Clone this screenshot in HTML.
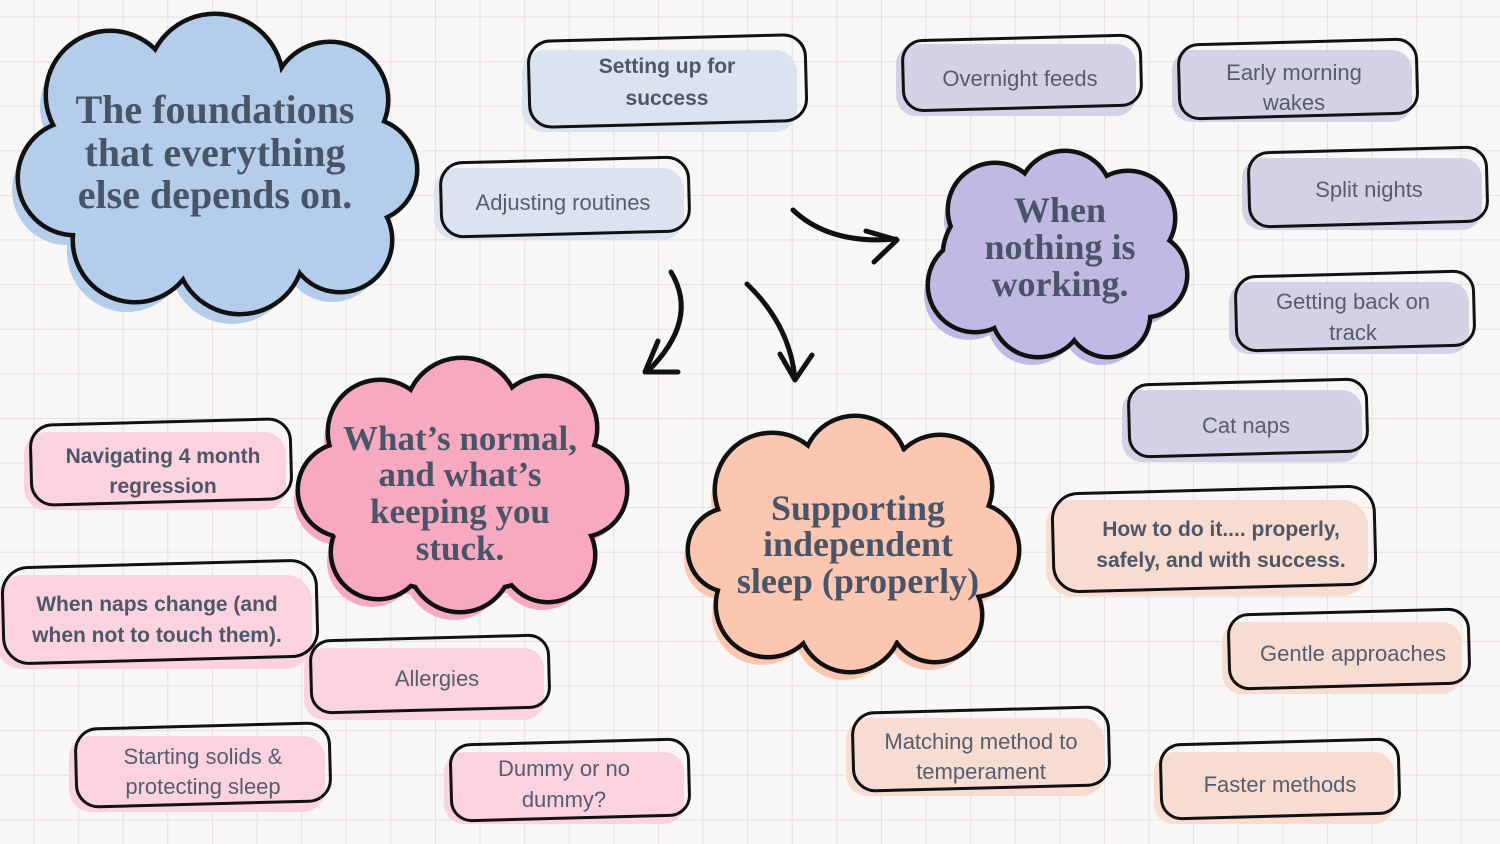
<!DOCTYPE html>
<html><head><meta charset="utf-8"><style>
html,body{margin:0;padding:0;background:#f8f7f6;}
svg{display:block}
.t{font-family:"Liberation Sans",sans-serif;fill:#555d70;text-anchor:middle;font-size:22px}
.b{font-weight:bold;fill:#4e5769;font-size:21px}
.h{font-family:"Liberation Serif",serif;font-weight:bold;fill:#4a5468;text-anchor:middle}
</style></head><body>
<svg width="1500" height="844" viewBox="0 0 1500 844" xmlns="http://www.w3.org/2000/svg">
<defs>
<pattern id="g" x="33.6" y="16.6" width="44.6" height="44.6" patternUnits="userSpaceOnUse">
<path d="M0 0H44.6M0 0V44.6" stroke="#e0dad6" stroke-width="1.5" fill="none"/>
</pattern>
<g id="c1"><ellipse cx="215" cy="165" rx="170" ry="100"/><circle cx="110" cy="95" r="62"/><circle cx="215" cy="82" r="66"/><circle cx="330" cy="100" r="56"/><circle cx="365" cy="170" r="50"/><circle cx="340" cy="240" r="50"/><circle cx="240" cy="250" r="62"/><circle cx="135" cy="240" r="60"/><circle cx="75" cy="178" r="55"/></g>
<g id="c2"><ellipse cx="1055" cy="255" rx="110" ry="75"/><circle cx="995" cy="210" r="45"/><circle cx="1065" cy="198" r="45"/><circle cx="1128" cy="218" r="45"/><circle cx="1145" cy="275" r="40"/><circle cx="1108" cy="315" r="40"/><circle cx="1038" cy="310" r="45"/><circle cx="975" cy="285" r="45"/></g>
<g id="c3"><ellipse cx="460" cy="490" rx="140" ry="100"/><circle cx="380" cy="432" r="50"/><circle cx="462" cy="415" r="55"/><circle cx="545" cy="428" r="50"/><circle cx="580" cy="490" r="45"/><circle cx="548" cy="555" r="45"/><circle cx="460" cy="560" r="50"/><circle cx="378" cy="552" r="45"/><circle cx="345" cy="490" r="45"/></g>
<g id="c4"><ellipse cx="855" cy="545" rx="135" ry="100"/><circle cx="772" cy="490" r="55"/><circle cx="855" cy="468" r="50"/><circle cx="940" cy="487" r="50"/><circle cx="972" cy="550" r="45"/><circle cx="935" cy="615" r="45"/><circle cx="850" cy="620" r="50"/><circle cx="768" cy="605" r="50"/><circle cx="730" cy="550" r="40"/></g>
</defs>
<rect width="1500" height="844" fill="url(#g)"/>

<use href="#c1" fill="#b4cdea" transform="translate(-8,12)"/>
<use href="#c1" fill="none" stroke="#111" stroke-width="9"/>
<use href="#c1" fill="#b4cdea"/>
<use href="#c2" fill="#c1b9e3" transform="translate(-6,10)"/>
<use href="#c2" fill="none" stroke="#111" stroke-width="9"/>
<use href="#c2" fill="#c1b9e3"/>
<use href="#c3" fill="#f7a9c0" transform="translate(-6,10)"/>
<use href="#c3" fill="none" stroke="#111" stroke-width="9"/>
<use href="#c3" fill="#f7a9c0"/>
<use href="#c4" fill="#fbc7b1" transform="translate(-6,10)"/>
<use href="#c4" fill="none" stroke="#111" stroke-width="9"/>
<use href="#c4" fill="#fbc7b1"/>

<text class="h" font-size="40"><tspan x="215" y="123">The foundations</tspan><tspan x="215" y="166">that everything</tspan><tspan x="215" y="208">else depends on.</tspan></text>
<text class="h" font-size="36"><tspan x="1060" y="222">When</tspan><tspan x="1060" y="259">nothing is</tspan><tspan x="1060" y="296">working.</tspan></text>
<text class="h" font-size="35"><tspan x="460" y="450">What’s normal,</tspan><tspan x="460" y="486">and what’s</tspan><tspan x="460" y="523">keeping you</tspan><tspan x="460" y="560">stuck.</tspan></text>
<text class="h" font-size="36"><tspan x="858" y="520">Supporting</tspan><tspan x="858" y="556">independent</tspan><tspan x="858" y="593">sleep (properly)</tspan></text>

<g stroke-linejoin="round">
<rect x="522" y="50" width="275" height="82" rx="22" fill="#dae3ef"/>
<rect x="529" y="38" width="277" height="86" rx="22" fill="none" stroke="#111" stroke-width="3" transform="rotate(-1.5 667 80)"/>
<rect x="434" y="168" width="250" height="72" rx="22" fill="#dae3ef"/>
<rect x="441" y="160" width="248" height="74" rx="22" fill="none" stroke="#111" stroke-width="3" transform="rotate(-1.5 565 197)"/>
<rect x="896" y="44" width="240" height="72" rx="20" fill="#d4d1e6"/>
<rect x="903" y="38" width="238" height="70" rx="20" fill="none" stroke="#111" stroke-width="3" transform="rotate(-1.5 1020 73)"/>
<rect x="1172" y="50" width="240" height="72" rx="20" fill="#d4d1e6"/>
<rect x="1179" y="42" width="238" height="74" rx="20" fill="none" stroke="#111" stroke-width="3" transform="rotate(-1.5 1298 78)"/>
<rect x="1242" y="158" width="240" height="72" rx="20" fill="#d4d1e6"/>
<rect x="1249" y="150" width="238" height="74" rx="20" fill="none" stroke="#111" stroke-width="3" transform="rotate(-1.5 1368 187)"/>
<rect x="1229" y="282" width="240" height="72" rx="20" fill="#d4d1e6"/>
<rect x="1236" y="274" width="238" height="74" rx="20" fill="none" stroke="#111" stroke-width="3" transform="rotate(-1.5 1355 311)"/>
<rect x="1122" y="390" width="240" height="72" rx="20" fill="#d4d1e6"/>
<rect x="1129" y="382" width="238" height="72" rx="20" fill="none" stroke="#111" stroke-width="3" transform="rotate(-1.5 1248 418)"/>
<rect x="1046" y="500" width="322" height="96" rx="26" fill="#f7dcd2"/>
<rect x="1053" y="490" width="322" height="98" rx="26" fill="none" stroke="#111" stroke-width="3" transform="rotate(-1.5 1214 539)"/>
<rect x="1222" y="622" width="240" height="72" rx="20" fill="#f7dcd2"/>
<rect x="1229" y="612" width="240" height="74" rx="20" fill="none" stroke="#111" stroke-width="3" transform="rotate(-1.5 1349 649)"/>
<rect x="846" y="718" width="258" height="78" rx="22" fill="#f7dcd2"/>
<rect x="853" y="710" width="256" height="78" rx="22" fill="none" stroke="#111" stroke-width="3" transform="rotate(-1.5 981 749)"/>
<rect x="1154" y="752" width="240" height="72" rx="20" fill="#f7dcd2"/>
<rect x="1161" y="742" width="238" height="74" rx="20" fill="none" stroke="#111" stroke-width="3" transform="rotate(-1.5 1280 779)"/>
<rect x="24" y="432" width="262" height="78" rx="22" fill="#fbd3de"/>
<rect x="31" y="422" width="260" height="80" rx="22" fill="none" stroke="#111" stroke-width="3" transform="rotate(-1.5 161 462)"/>
<rect x="-4" y="575" width="316" height="94" rx="26" fill="#fbd3de"/>
<rect x="3" y="564" width="314" height="96" rx="26" fill="none" stroke="#111" stroke-width="3" transform="rotate(-1.5 160 612)"/>
<rect x="304" y="648" width="240" height="72" rx="20" fill="#fbd3de"/>
<rect x="311" y="638" width="238" height="72" rx="20" fill="none" stroke="#111" stroke-width="3" transform="rotate(-1.5 430 674)"/>
<rect x="69" y="736" width="256" height="76" rx="22" fill="#fbd3de"/>
<rect x="76" y="726" width="254" height="78" rx="22" fill="none" stroke="#111" stroke-width="3" transform="rotate(-1.5 203 765)"/>
<rect x="444" y="752" width="240" height="72" rx="20" fill="#fbd3de"/>
<rect x="451" y="742" width="238" height="76" rx="20" fill="none" stroke="#111" stroke-width="3" transform="rotate(-1.5 570 780)"/>
</g>

<text class="t b"><tspan x="667" y="73">Setting up for</tspan><tspan x="667" y="105">success</tspan></text>
<text class="t" x="563" y="210">Adjusting routines</text>
<text class="t" x="1020" y="86">Overnight feeds</text>
<text class="t"><tspan x="1294" y="80">Early morning</tspan><tspan x="1294" y="110">wakes</tspan></text>
<text class="t" x="1369" y="197">Split nights</text>
<text class="t"><tspan x="1353" y="309">Getting back on</tspan><tspan x="1353" y="340">track</tspan></text>
<text class="t" x="1246" y="433">Cat naps</text>
<text class="t b"><tspan x="1221" y="536">How to do it.... properly,</tspan><tspan x="1221" y="567">safely, and with success.</tspan></text>
<text class="t" x="1353" y="661">Gentle approaches</text>
<text class="t"><tspan x="981" y="749">Matching method to</tspan><tspan x="981" y="779">temperament</tspan></text>
<text class="t" x="1280" y="792">Faster methods</text>
<text class="t b"><tspan x="163" y="463">Navigating 4 month</tspan><tspan x="163" y="493">regression</tspan></text>
<text class="t b"><tspan x="157" y="611">When naps change (and</tspan><tspan x="157" y="642">when not to touch them).</tspan></text>
<text class="t" x="437" y="686">Allergies</text>
<text class="t"><tspan x="203" y="764">Starting solids &amp;</tspan><tspan x="203" y="794">protecting sleep</tspan></text>
<text class="t"><tspan x="564" y="776">Dummy or no</tspan><tspan x="564" y="807">dummy?</tspan></text>

<g fill="none" stroke="#111" stroke-width="5" stroke-linecap="round" stroke-linejoin="round">
<path d="M793 210 Q830 245 896 239"/>
<path d="M866 231 L897 240 L874 262"/>
<path d="M671 272 Q700 320 647 372"/>
<path d="M658 341 L645 372 L678 372"/>
<path d="M747 284 Q790 325 795 379"/>
<path d="M780 354 L795 380 L812 355"/>
</g>
</svg>
</body></html>
